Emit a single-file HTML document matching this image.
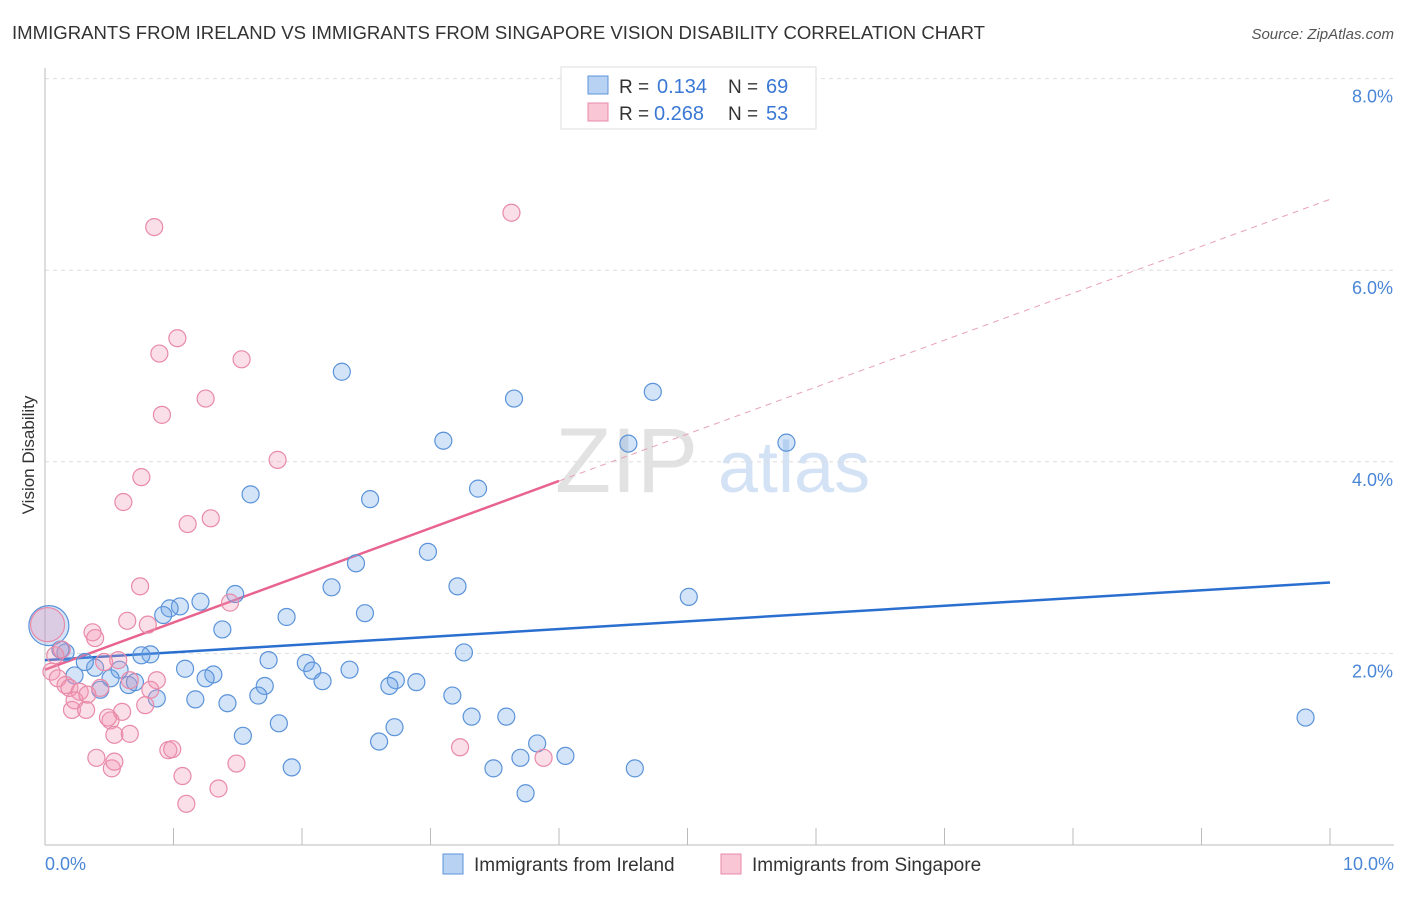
<!DOCTYPE html>
<html><head><meta charset="utf-8"><style>
body{margin:0;background:#fff;font-family:"Liberation Sans",sans-serif}
svg text{font-family:"Liberation Sans",sans-serif}
</style></head><body>
<svg id="chart" width="1406" height="892">
<text x="12" y="39" font-size="18" fill="#333" textLength="973" lengthAdjust="spacingAndGlyphs">IMMIGRANTS FROM IRELAND VS IMMIGRANTS FROM SINGAPORE VISION DISABILITY CORRELATION CHART</text>
<text x="1394" y="39" font-size="15" fill="#555" font-style="italic" text-anchor="end">Source: ZipAtlas.com</text>
<g>
<text x="555" y="492" font-size="92" fill="#d0d0d0" font-family="Liberation Serif" opacity="0.6">ZIP</text>
<text x="718" y="492" font-size="72" fill="#b9cff0" opacity="0.6">atlas</text>
</g>
<g id="grid"></g><g id="axes"></g><g id="lines"></g><g id="pts"></g>
<text transform="translate(34,455) rotate(-90)" font-size="17" fill="#333" text-anchor="middle">Vision Disability</text>
<text x="45" y="870" font-size="18" fill="#4a86d6">0.0%</text>
<text x="1394" y="870" font-size="18" fill="#4a86d6" text-anchor="end">10.0%</text>
<g>
<rect x="561" y="67" width="255" height="62" fill="#fff" stroke="#ddd"/>
<rect x="588" y="76" width="20" height="18" fill="#b8d2f4" stroke="#5b93d9"/>
<rect x="588" y="103" width="20" height="18" fill="#f9c6d6" stroke="#e88aa8"/>
<text x="619" y="93" font-size="19" fill="#333">R =</text>
<text x="657" y="93" font-size="20" fill="#3a78d4">0.134</text>
<text x="728" y="93" font-size="19" fill="#333">N =</text>
<text x="766" y="93" font-size="20" fill="#3a78d4">69</text>
<text x="619" y="120" font-size="19" fill="#333">R =</text>
<text x="654" y="120" font-size="20" fill="#3a78d4">0.268</text>
<text x="728" y="120" font-size="19" fill="#333">N =</text>
<text x="766" y="120" font-size="20" fill="#3a78d4">53</text>
</g>
<g>
<rect x="443" y="854" width="20" height="20" fill="#b8d2f4" stroke="#5b93d9"/>
<text x="474" y="871" font-size="19" fill="#333">Immigrants from Ireland</text>
<rect x="721" y="854" width="20" height="20" fill="#f9c6d6" stroke="#e88aa8"/>
<text x="752" y="871" font-size="19" fill="#333">Immigrants from Singapore</text>
</g>
</svg>
<script>
const yTicks=[2,4,6,8];
const yTickLabels=["2.0%","4.0%","6.0%","8.0%"];
const xTicks=[0,1,2,3,4,5,6,7,8,9,10];
const blueX=[2.31,3.65,4.73,3.10,4.54,5.77,1.60,2.53,3.37,2.98,2.42,2.23,3.21,5.01,1.48,1.21,1.05,0.97,0.92,1.88,2.49,1.38,0.82,0.75,1.74,2.03,3.26,1.09,1.31,1.25,2.08,2.16,2.37,2.73,2.89,2.68,1.71,0.87,1.17,1.42,1.66,3.17,0.58,0.51,0.39,0.31,0.23,0.16,0.43,0.65,0.70,3.32,3.59,1.82,2.72,1.54,2.60,3.83,3.70,4.05,1.92,3.49,4.59,3.74,9.81,0.12,0.03];
const blueY=[4.94,4.66,4.73,4.22,4.19,4.20,3.66,3.61,3.72,3.06,2.94,2.69,2.70,2.59,2.62,2.54,2.49,2.47,2.40,2.38,2.42,2.25,1.99,1.98,1.93,1.90,2.01,1.84,1.78,1.74,1.82,1.71,1.83,1.72,1.70,1.66,1.66,1.53,1.52,1.48,1.56,1.56,1.83,1.74,1.85,1.91,1.77,2.01,1.62,1.67,1.70,1.34,1.34,1.27,1.23,1.14,1.08,1.06,0.91,0.93,0.81,0.80,0.80,0.54,1.33,2.04,2.29];
const pinkX=[3.63,0.85,1.03,0.89,1.53,1.25,0.91,1.81,0.75,0.61,1.29,1.11,0.74,1.44,0.64,0.80,0.37,0.39,0.46,0.57,0.08,0.05,0.10,0.16,0.19,0.27,0.23,0.21,0.32,0.43,0.51,0.54,0.66,0.49,0.78,0.87,0.40,0.52,0.54,0.96,0.99,1.07,1.10,1.35,1.49,3.23,3.88,0.13,0.33,0.60,0.82,0.66,0.02];
const pinkY=[6.60,6.45,5.29,5.13,5.07,4.66,4.49,4.02,3.84,3.58,3.41,3.35,2.70,2.53,2.34,2.30,2.22,2.16,1.91,1.93,1.98,1.81,1.74,1.67,1.64,1.60,1.51,1.41,1.41,1.64,1.30,1.15,1.16,1.33,1.46,1.72,0.91,0.80,0.87,0.99,1.00,0.72,0.43,0.59,0.85,1.02,0.91,2.04,1.57,1.39,1.62,1.72,2.30];
const blueTrend=[1.93,2.74];
const pinkTrend=[1.83,3.80,6.74];
const pinkSolidEnd=4.0;
const NS='http://www.w3.org/2000/svg';
const xs=v=>45+v*128.5, ys=v=>845-v*95.8;
function mk(tag,attrs,parent){const e=document.createElementNS(NS,tag);for(const k in attrs)e.setAttribute(k,attrs[k]);document.getElementById(parent).appendChild(e);return e;}
yTicks.forEach((t,i)=>{
 const l=mk('line',{x1:45,x2:1394,y1:ys(t),y2:ys(t),stroke:'#ddd','stroke-dasharray':'4,4'},'grid');
 
 
 const tx=mk('text',{x:1393,y:ys(t)+24,'font-size':18,fill:'#4a86d6','text-anchor':'end'},'grid');
 tx.textContent=yTickLabels[i];
 
 
});
const ax=mk('line',{x1:45,x2:1394,y1:845,y2:845,stroke:'#bbb'},'axes');


const ay=mk('line',{x1:45,x2:45,y1:68,y2:845,stroke:'#bbb'},'axes');


xTicks.forEach(t=>{
 const l=mk('line',{x1:xs(t),x2:xs(t),y1:828,y2:845,stroke:'#bbb'},'axes');
 
 
});
const bl=mk('line',{x1:xs(0),y1:ys(blueTrend[0]),x2:xs(10),y2:ys(blueTrend[1]),stroke:'#2a6fd0','stroke-width':2.5},'lines');


const pl=mk('line',{x1:xs(0),y1:ys(pinkTrend[0]),x2:xs(pinkSolidEnd),y2:ys(pinkTrend[1]),stroke:'#e8648f','stroke-width':2.5},'lines');


const pd=mk('line',{x1:xs(pinkSolidEnd),y1:ys(pinkTrend[1]),x2:xs(10),y2:ys(pinkTrend[2]),stroke:'#e8a0b8','stroke-width':1,'stroke-dasharray':'6,5'},'lines');


blueX.forEach((x,i)=>{
 const big=i===blueX.length-1;
 const c=mk('circle',{cx:xs(x),cy:ys(blueY[i]),r:big?20:8.5,fill:'rgba(110,165,232,0.3)',stroke:'#5b93d9','stroke-width':1.2},'pts');
 
 
});
pinkX.forEach((x,i)=>{
 const big=i===pinkX.length-1;
 const c=mk('circle',{cx:xs(x),cy:ys(pinkY[i]),r:big?17:8.5,fill:'rgba(242,150,180,0.3)',stroke:'#e88aa8','stroke-width':1.2},'pts');
 
 
});
</script>
</body></html>
